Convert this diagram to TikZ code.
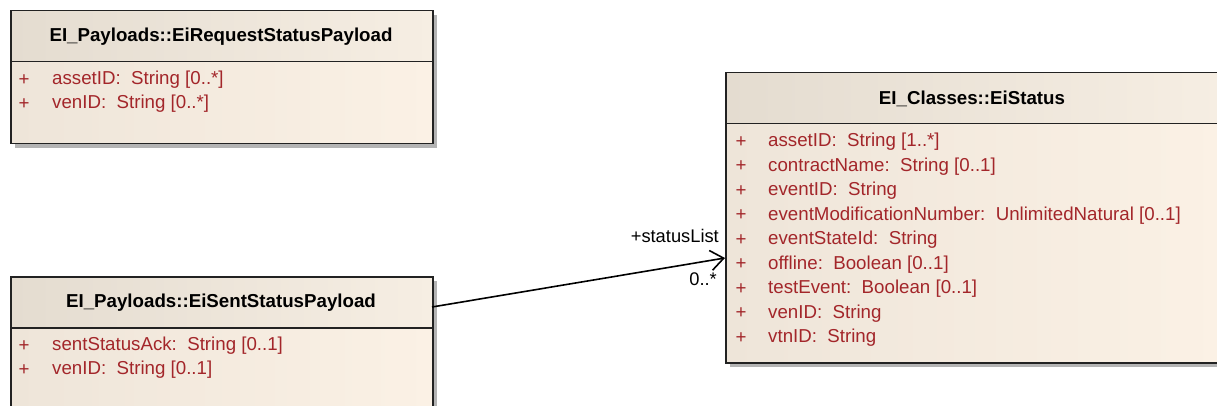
\documentclass[tikz,border=0pt]{standalone}
\usepackage{fontspec}
\setmainfont{Liberation Sans}
\usetikzlibrary{arrows.meta}
\definecolor{hdL}{HTML}{E4DCD0}
\definecolor{hdR}{HTML}{F6EEE3}
\definecolor{bdL}{HTML}{EEE5D9}
\definecolor{bdR}{HTML}{FBF1E5}
\definecolor{attr}{HTML}{A3262A}
\definecolor{edge}{HTML}{222222}
\definecolor{shade}{HTML}{B4B4B4}
\tikzset{
  boxshadow/.style={fill=shade, draw=none},
  headbox/.style={draw=edge, line width=1.5pt, left color=hdL, right color=hdR, inner sep=0pt, anchor=north west},
  bodybox/.style={draw=edge, line width=1.5pt, left color=bdL, right color=bdR, inner sep=0pt, anchor=north west},
  title/.style={font=\fontsize{18.7}{22}\selectfont\bfseries, text=black, inner sep=0pt},
  plus/.style={font=\fontsize{18.7}{22}\selectfont, text=attr, inner sep=0pt},
  attrtext/.style={font=\fontsize{18.7}{22}\selectfont, text=attr, inner sep=0pt, anchor=west},
  rolelabel/.style={font=\fontsize{18.3}{22}\selectfont, text=black, inner sep=0pt},
  assoc/.style={draw=black, line width=1.6pt, -{Straight Barb[length=13pt,width=20pt,line width=1.6pt]}}
}
\begin{document}
\begin{tikzpicture}[x=1pt,y=-1pt]
\clip (0,0) rectangle (1217,406);
\fill[white] (0,0) rectangle (1217,406);

% ---------- EiRequestStatusPayload ----------
\fill[boxshadow] (15,15) rectangle (437,148);
\node[bodybox, minimum width=422pt, minimum height=82pt] (reqbody) at (10,61) {};
\node[headbox, minimum width=422pt, minimum height=51pt] (reqhead) at (10,10) {};
\node[title] (reqtitle) at (221,37) {EI\_Payloads::EiRequestStatusPayload};
\node[plus] (reqp1) at (24,80) {+};
\node[attrtext] (reqa1) at (52,80) {assetID:\ \ String [0..*]};
\node[plus] (reqp2) at (24,104) {+};
\node[attrtext] (reqa2) at (52,104) {venID:\ \ String [0..*]};

% ---------- EiSentStatusPayload ----------
\fill[boxshadow] (15,281) rectangle (437,430);
\node[bodybox, minimum width=422pt, minimum height=100pt] (sentbody) at (10,327) {};
\node[headbox, minimum width=422pt, minimum height=51pt] (senthead) at (10,276) {};
\node[title] (senttitle) at (221,303) {EI\_Payloads::EiSentStatusPayload};
\node[plus] (sentp1) at (24,346) {+};
\node[attrtext] (senta1) at (52,346) {sentStatusAck:\ \ String [0..1]};
\node[plus] (sentp2) at (24,370) {+};
\node[attrtext] (senta2) at (52,370) {venID:\ \ String [0..1]};

% ---------- EiStatus ----------
\fill[boxshadow] (730,77) rectangle (1230,367);
\node[bodybox, minimum width=497pt, minimum height=239pt] (statbody) at (725,123) {};
\node[headbox, minimum width=497pt, minimum height=51pt] (stathead) at (725,72) {};
\node[title] (stattitle) at (972,99) {EI\_Classes::EiStatus};
\foreach \t [count=\i from 0] in {
  {assetID:\ \ String [1..*]},
  {contractName:\ \ String [0..1]},
  {eventID:\ \ String},
  {eventModificationNumber:\ \ UnlimitedNatural [0..1]},
  {eventStateId:\ \ String},
  {offline:\ \ Boolean [0..1]},
  {testEvent:\ \ Boolean [0..1]},
  {venID:\ \ String},
  {vtnID:\ \ String}} {
  \node[plus] (statp\i) at (741,{142+24.5*\i}) {+};
  \node[attrtext] (stata\i) at (768,{142+24.5*\i}) {\t};
}

% ---------- association ----------
\coordinate (sentport) at (432,307);
\coordinate (statport) at (725,258);
\draw[assoc] (sentport) -- (statport);
\node[rolelabel, anchor=east] (role) at (719,236) {+statusList};
\node[rolelabel, anchor=east] (mult) at (717,279) {0..*};
\end{tikzpicture}
\end{document}
